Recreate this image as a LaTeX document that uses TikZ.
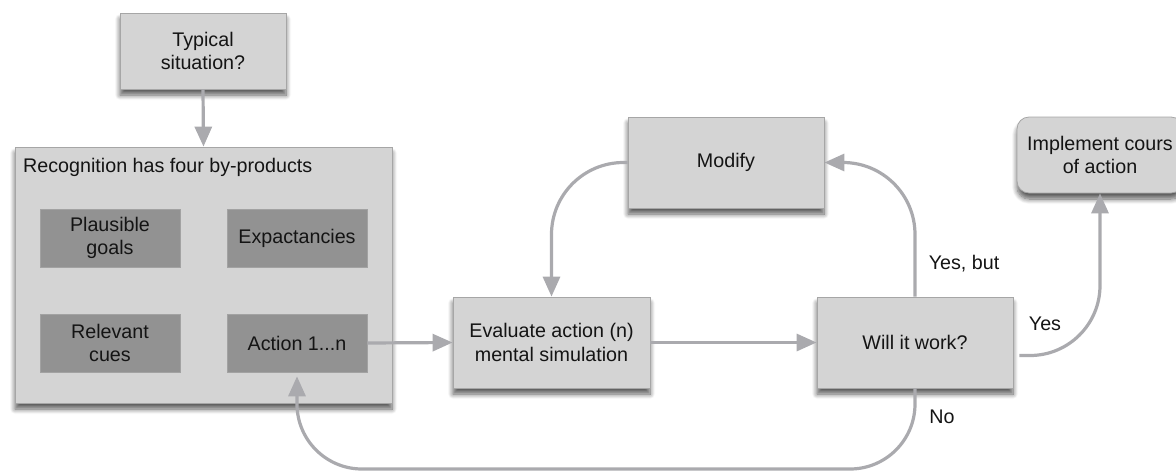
\documentclass[tikz,border=0pt]{standalone}
\usepackage{fontspec}
\setmainfont{Liberation Sans}
\usetikzlibrary{arrows.meta,shadows.blur}
\definecolor{boxfill}{HTML}{D4D4D4}
\definecolor{innerfill}{HTML}{929292}
\definecolor{boxline}{HTML}{A6A6A6}
\definecolor{arrowc}{HTML}{AAAAAE}
\definecolor{txt}{HTML}{141414}
\begin{document}
\begin{tikzpicture}[x=1pt,y=-1pt,
  font=\fontsize{19.7}{23.4}\selectfont, text=txt,
  box/.style={draw=boxline, line width=0.8pt, fill=boxfill, inner sep=0pt, align=center,
    blur shadow={shadow xshift=0pt, shadow yshift=-6pt, shadow blur radius=5pt, shadow blur steps=8, shadow opacity=65}},
  innerbox/.style={draw=innerfill!85!white, line width=0.6pt, fill=innerfill, inner sep=0pt, align=center,
    minimum width=140pt, minimum height=58pt},
  conn/.style={draw=arrowc, line width=3.2pt, -{Triangle[length=20pt,width=17pt]}},
  lbl/.style={inner sep=0pt}
]
\useasboundingbox (0,0) rectangle (1176,475);

\node[box, minimum width=166pt, minimum height=76pt] (typ) at (203,51) {Typical\\situation?};
\node[box, minimum width=377pt, minimum height=256pt] (big) at (203.5,275) {};
\node[lbl, anchor=west] (title) at (23,167) {Recognition has four by-products};
\node[innerbox] (pg) at (110,238) {Plausible\\goals};
\node[innerbox] (ex) at (297,238) {Expactancies};
\node[innerbox] (rc) at (110,343) {Relevant\\cues};
\node[innerbox] (act) at (297,343) {Action 1...n};

\node[box, minimum width=197pt, minimum height=91pt] (eval) at (551.5,342.5) {Evaluate action (n)\\mental simulation};
\node[box, minimum width=196pt, minimum height=91pt] (mod) at (726,162.5) {Modify};
\node[box, minimum width=196pt, minimum height=91pt] (will) at (915,342.5) {Will it work?};
\node[box, rounded corners=12pt, minimum width=166pt, minimum height=76pt] (impl) at (1100,155) {Implement cours\\of action};

\node[lbl] (yb) at (964,264) {Yes, but};
\node[lbl] (ys) at (1045,324) {Yes};
\node[lbl] (no) at (942,417) {No};

\coordinate (bot) at (600,469);

\draw[conn] (typ.south) -- (big.north);
\draw[conn] (act.east) -- (eval.west);
\draw[conn] (eval.east) -- (will.west);
\draw[conn, rounded corners=72pt] (mod.west) -| (eval.north);
\draw[conn, rounded corners=72pt] (will.north) |- (mod.east);
\draw[conn, rounded corners=65pt, shorten >=4pt] (will.south) |- (bot) -| (act.south);
\draw[conn, rounded corners=70pt] ([yshift=-13pt,xshift=6pt]will.east) -| (impl.south);
\end{tikzpicture}
\end{document}
